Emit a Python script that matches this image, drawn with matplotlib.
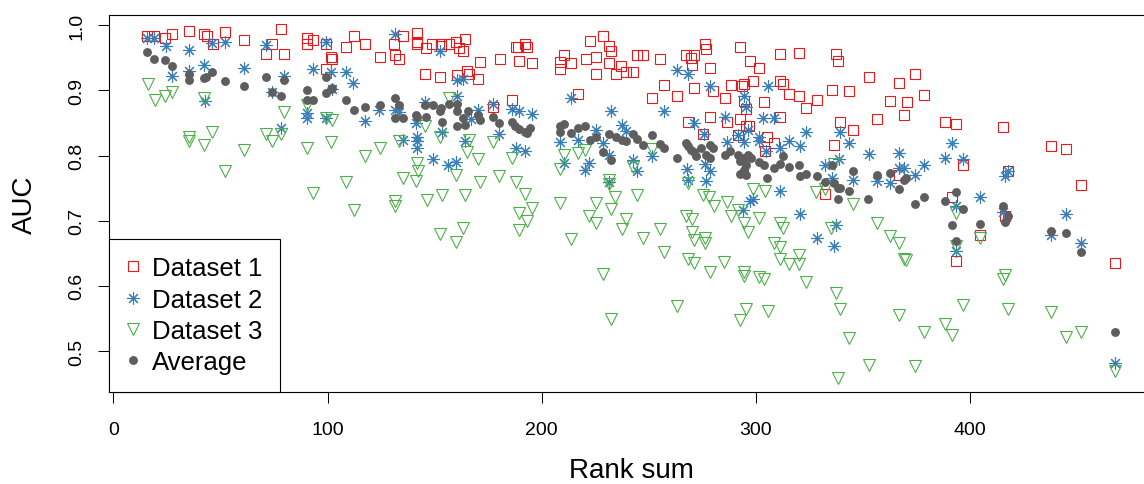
#!/usr/bin/env python3

import numpy as np
import matplotlib
matplotlib.use("Agg")
import matplotlib.pyplot as plt
from matplotlib.lines import Line2D

plt.rcParams["font.family"] = ["Liberation Sans", "DejaVu Sans"]

# (rank sum, AUC)
dataset1 = [
    (15.9, .983), (19.0, .983), (24.0, .981), (27.3, .986), (35.1, .991), (42.1, .986),
    (43.6, .983), (46.4, .971), (52.0, .990), (61.1, .978), (71.4, .956), (74.3, .971),
    (78.2, .994), (79.8, .956),
    (90.2, .980), (90.2, .972), (93.3, .978), (99.1, .972), (101.4, .952), (102.2, .948),
    (99.1, .933), (108.4, .966), (112.3, .984), (117.3, .972), (124.3, .952), (131.0, .972),
    (131.3, .955), (133.3, .948), (135.4, .983), (141.9, .988), (141.6, .975), (141.9, .971),
    (145.8, .965), (148.9, .972), (152.8, .972), (152.8, .969), (156.7, .972), (159.8, .975),
    (161.4, .965), (145.3, .925), (152.4, .920), (160.6, .924),
    (164.2, .979), (163.2, .960), (171.0, .944), (180.4, .949), (165.3, .930), (166.0, .925),
    (170.1, .918), (187.8, .966), (189.1, .966), (192.2, .971), (193.3, .966), (189.4, .945),
    (195.3, .942), (186.3, .886), (177.3, .875), (210.4, .954), (208.4, .943), (208.4, .933),
    (213.5, .942), (220.6, .949), (222.4, .976), (228.4, .983), (231.2, .969), (232.2, .961),
    (225.2, .952), (225.2, .926), (231.2, .942), (234.6, .926), (236.9, .937), (239.3, .928),
    (217.1, .894),
    (244.4, .955), (247.5, .955), (242.8, .928), (255.3, .948), (257.2, .909), (251.3, .888),
    (263.4, .891), (267.3, .955), (269.6, .950), (270.4, .939), (271.2, .955), (276.2, .971),
    (276.7, .964), (278.4, .934), (271.2, .904), (268.1, .852), (278.4, .859), (275.1, .833),
    (280.2, .899), (285.5, .889), (288.3, .909), (292.4, .967), (297.4, .945), (301.4, .934),
    (293.3, .907), (294.6, .910), (298.5, .914), (294.3, .884), (295.4, .872), (286.5, .852),
    (292.4, .856), (295.4, .845), (296.9, .846), (291.8, .831), (303.6, .883), (305.2, .829),
    (308.6, .819), (304.2, .807), (311.4, .956), (311.4, .915), (312.5, .910), (315.6, .894),
    (311.4, .860),
    (320.3, .958), (337.4, .956), (338.5, .946), (352.7, .920), (366.7, .911), (374.5, .925),
    (320.3, .891), (328.4, .885), (323.4, .873), (335.5, .901), (343.3, .899), (362.6, .884),
    (370.6, .882), (378.5, .893), (356.4, .856), (369.3, .863), (339.4, .852), (345.5, .840),
    (336.5, .817), (388.5, .851), (393.5, .848), (332.4, .741), (366.7, .771), (391.6, .737),
    (393.5, .639),
    (396.6, .786), (404.5, .678), (415.6, .844), (416.5, .707), (417.6, .777), (437.6, .815),
    (444.6, .810), (451.6, .755), (467.5, .635),
]

dataset2 = [
    (15.9, .981), (19.0, .981), (24.5, .969), (27.3, .922), (35.1, .962), (35.1, .930),
    (42.4, .939), (42.7, .884), (46.3, .973), (52.0, .975), (61.1, .935), (71.4, .970),
    (74.3, .897), (78.2, .843), (79.8, .922),
    (99.1, .974), (93.2, .933), (101.7, .928), (108.4, .929), (112.0, .911), (102.2, .903),
    (90.2, .865), (90.2, .857), (99.1, .857), (117.3, .853), (124.0, .870), (131.3, .986),
    (131.3, .870), (133.3, .867), (135.2, .824), (141.1, .850), (141.9, .829), (141.9, .822),
    (141.9, .811), (145.3, .882), (152.4, .960), (149.2, .795), (156.3, .786), (159.8, .790),
    (153.6, .836), (160.6, .916), (160.6, .892),
    (163.2, .918), (170.4, .870), (177.3, .880), (166.8, .856), (180.1, .833), (164.2, .822),
    (186.3, .872), (189.4, .868), (195.3, .864), (187.8, .811), (192.2, .807), (213.5, .889),
    (208.4, .821), (210.4, .788), (217.1, .824), (225.2, .840), (228.4, .819), (232.2, .868),
    (237.4, .847), (239.3, .838), (231.5, .801), (222.1, .788), (220.2, .778), (231.5, .760),
    (263.4, .932), (268.4, .926), (257.2, .869), (278.4, .907), (271.2, .850), (275.6, .833),
    (285.5, .860), (294.6, .891), (295.4, .875), (305.5, .907), (303.1, .857), (308.6, .857),
    (251.3, .799), (242.8, .794), (244.4, .777), (267.8, .780), (276.2, .787), (278.7, .776),
    (268.4, .763), (276.7, .761), (286.5, .821), (291.5, .831), (294.3, .821), (296.1, .840),
    (301.6, .829), (301.6, .822), (304.7, .807), (315.6, .823), (311.4, .812), (298.5, .734),
    (297.4, .730), (293.8, .717), (311.4, .745),
    (323.4, .836), (320.6, .814), (339.3, .836), (343.3, .819), (338.6, .795), (332.4, .786),
    (335.5, .765), (345.5, .763), (352.7, .802), (356.4, .761), (362.6, .758), (366.7, .804),
    (366.7, .781), (369.3, .781), (374.5, .770), (378.5, .786), (388.5, .797), (391.6, .819),
    (320.6, .710), (337.4, .693), (328.4, .673), (336.5, .662), (393.5, .722), (393.5, .653),
    (396.6, .795), (404.5, .736), (415.6, .713), (416.5, .768), (417.6, .776), (437.6, .678),
    (444.6, .710), (451.6, .666), (467.5, .482),
]

dataset3 = [
    (16.2, .910), (19.3, .886), (24.0, .892), (27.3, .898), (35.1, .829), (35.1, .822),
    (42.4, .889), (42.4, .816), (46.3, .836), (52.0, .776), (61.1, .809), (71.4, .833),
    (74.3, .823), (78.2, .833), (79.8, .867),
    (90.2, .877), (99.1, .858), (102.2, .855), (90.5, .811), (101.4, .821), (117.3, .799),
    (124.3, .812), (108.4, .759), (93.2, .742), (112.3, .717), (131.3, .731), (131.3, .722),
    (133.3, .822), (135.4, .765), (141.1, .761), (141.9, .788), (142.2, .776), (146.3, .732),
    (153.6, .740), (152.5, .679), (159.8, .668), (159.8, .771), (145.3, .845), (152.5, .829),
    (156.7, .888),
    (166.0, .824), (165.3, .806), (170.4, .795), (177.3, .821), (186.3, .797), (171.0, .760),
    (180.1, .768), (188.2, .760), (164.2, .739), (192.2, .741), (195.3, .720), (189.4, .712),
    (193.3, .699), (189.4, .686), (163.2, .689), (210.4, .801), (217.1, .804), (220.2, .809),
    (208.4, .780), (208.4, .727), (213.5, .672), (231.2, .763), (231.2, .756), (234.3, .736),
    (225.2, .727), (222.1, .708), (225.2, .696), (232.2, .718), (239.3, .703), (237.4, .688),
    (228.4, .618), (232.2, .549),
    (251.3, .810), (242.8, .782), (244.4, .739), (268.4, .758), (275.1, .739), (278.2, .737),
    (280.6, .722), (286.5, .729), (288.3, .707), (291.8, .717), (267.3, .707), (270.4, .703),
    (294.6, .696), (296.1, .683), (298.5, .748), (304.2, .746), (301.6, .705), (255.3, .688),
    (247.5, .673), (257.2, .652), (270.4, .683), (271.2, .671), (276.2, .673), (276.2, .666),
    (268.4, .642), (271.2, .635), (278.4, .621), (285.2, .637), (294.3, .622), (294.6, .615),
    (301.6, .613), (303.6, .610), (311.4, .696), (312.5, .689), (308.3, .666), (311.4, .659),
    (311.4, .642), (315.6, .633), (263.4, .569), (295.4, .565), (305.5, .562), (292.4, .547),
    (328.0, .744), (332.4, .749), (336.6, .787), (345.5, .726), (335.1, .689), (356.4, .696),
    (362.6, .676), (366.7, .666), (369.3, .642), (370.1, .640), (320.3, .648), (320.3, .634),
    (323.4, .606), (337.4, .589), (339.4, .564), (343.3, .520), (366.7, .555), (378.5, .530),
    (388.5, .542), (391.6, .525), (352.7, .478), (374.5, .477), (338.5, .459), (393.5, .712),
    (393.5, .662),
    (396.6, .571), (404.5, .673), (415.3, .610), (416.1, .617), (417.6, .564), (437.6, .560),
    (444.6, .521), (451.6, .530), (467.5, .469),
]

average = [
    (15.9, .959), (19.0, .949), (24.0, .947), (27.3, .937), (35.1, .926), (35.1, .916),
    (42.4, .919), (43.3, .920), (46.3, .929), (52.0, .915), (61.1, .907), (71.4, .920),
    (74.3, .897), (78.2, .891), (79.8, .916),
    (90.2, .901), (90.2, .886), (93.3, .885), (99.1, .920), (99.5, .896), (101.4, .902),
    (102.2, .904), (108.4, .886), (112.3, .870), (117.3, .875), (124.3, .878), (131.3, .888),
    (133.3, .877), (131.3, .858), (135.2, .858), (141.1, .863), (141.9, .860), (145.3, .878),
    (146.1, .860), (149.4, .878), (152.8, .873), (152.5, .868), (156.7, .880), (153.6, .851),
    (160.6, .880), (160.6, .868), (160.6, .845),
    (165.7, .869), (163.2, .857), (164.2, .847), (170.4, .863), (171.0, .855), (177.3, .860),
    (180.1, .850), (186.3, .852), (187.5, .846), (189.4, .841), (192.2, .836), (194.4, .843),
    (193.3, .834), (208.4, .845), (210.4, .848), (208.4, .836), (213.5, .834), (217.1, .842),
    (220.2, .846), (222.4, .824), (225.2, .829), (228.4, .806), (232.2, .794), (231.5, .833),
    (234.6, .829), (237.4, .824), (239.3, .823),
    (242.8, .833), (244.4, .826), (247.5, .817), (251.3, .832), (255.3, .818), (257.2, .812),
    (263.4, .797), (267.3, .819), (268.4, .814), (269.6, .809), (271.2, .805), (272.0, .799),
    (274.3, .812), (276.7, .801), (278.7, .816), (279.9, .812), (278.4, .796), (285.8, .801),
    (288.0, .807), (291.5, .801), (292.4, .791), (294.3, .796), (295.4, .786), (296.1, .801),
    (297.7, .796), (292.4, .772), (295.4, .771), (294.6, .778), (301.6, .790), (303.6, .786),
    (305.2, .766), (308.6, .781), (311.4, .787), (312.5, .799), (315.6, .783),
    (320.3, .785), (320.6, .768), (323.4, .772), (328.4, .768), (332.4, .759), (335.5, .785),
    (336.6, .758), (338.2, .750), (339.3, .751), (343.3, .746), (338.3, .734), (345.5, .777),
    (352.4, .734), (356.4, .771), (362.6, .773), (366.7, .748), (369.3, .763), (370.1, .765),
    (374.5, .725), (378.5, .737), (388.5, .730), (393.5, .744), (391.5, .694), (393.5, .669),
    (396.6, .718), (404.5, .695), (415.6, .723), (416.5, .698), (417.6, .707), (437.6, .685),
    (444.6, .681), (451.6, .652), (467.5, .529),
]

labels = ["Dataset 1", "Dataset 2", "Dataset 3", "Average"]
colors = ["#E41A1C", "#377EB8", "#4DAF4A", "#5E5E5E"]
x_ticks = [0, 100, 200, 300, 400]
y_ticks = [0.5, 0.6, 0.7, 0.8, 0.9, 1.0]

# marker styles (R pch 0, 8, 6, 16)
styles = [
    dict(marker="s", markersize=6.8, markerfacecolor="none", markeredgewidth=0.8),
    dict(marker=(8, 2, 0), markersize=9.0, markeredgewidth=0.8),
    dict(marker="v", markersize=8.2, markerfacecolor="none", markeredgewidth=0.8),
    dict(marker="o", markersize=6.4, markeredgewidth=0),
]

fig = plt.figure(figsize=(11.44, 4.85), dpi=100)
# plot region runs past the right edge of the picture, as in the original crop
ax = fig.add_axes([108.7 / 1144, (485 - 392.7) / 485, 1044.6 / 1144, 376.4 / 485])

series = [dataset1, dataset2, dataset3, average]
for pts, col, st in zip(series, colors, styles):
    xs = [p[0] for p in pts]
    ys = [p[1] for p in pts]
    ax.plot(xs, ys, linestyle="none", color=col, markeredgecolor=col, **st)

# R style 4% expansion of the ranges
all_x = np.array([p[0] for s in series for p in s])
all_y = np.array([p[1] for s in series for p in s])
dx = (all_x.max() - all_x.min()) * 0.04
dy = (all_y.max() - all_y.min()) * 0.04
ax.set_xlim(all_x.min() - dx, all_x.max() + dx)
ax.set_ylim(all_y.min() - dy, all_y.max() + dy)

ax.set_xticks(x_ticks)
ax.set_xticklabels([str(t) for t in x_ticks])
ax.set_yticks(y_ticks)
ax.set_yticklabels([f"{t:.1f}" for t in y_ticks], rotation=90, va="center")
ax.tick_params(axis="both", direction="out", length=8, width=0.75, labelsize=14)
ax.tick_params(axis="x", pad=13)
ax.tick_params(axis="y", pad=9)
for sp in ax.spines.values():
    sp.set_linewidth(0.8)

ax.set_xlabel("Rank sum", fontsize=20, va="center")
ax.xaxis.set_label_coords(0.5, (392.7 - 471) / 376.4)
ax.set_ylabel("AUC", fontsize=20, va="center", ha="center")
ax.yaxis.set_label_coords((25 - 108.7) / 1044.6, 0.5)

handles = [
    Line2D([], [], linestyle="none", color=c, markeredgecolor=c, **st)
    for c, st in zip(colors, styles)
]
leg = ax.legend(handles, labels, loc="lower left", fontsize=18.5,
                frameon=True, fancybox=False, shadow=False, framealpha=1,
                edgecolor="black", borderaxespad=0, borderpad=0.69,
                handlelength=0.5, handletextpad=0.5, labelspacing=0.28)
leg.get_frame().set_linewidth(0.8)

fig.savefig("out.png", dpi=100)
